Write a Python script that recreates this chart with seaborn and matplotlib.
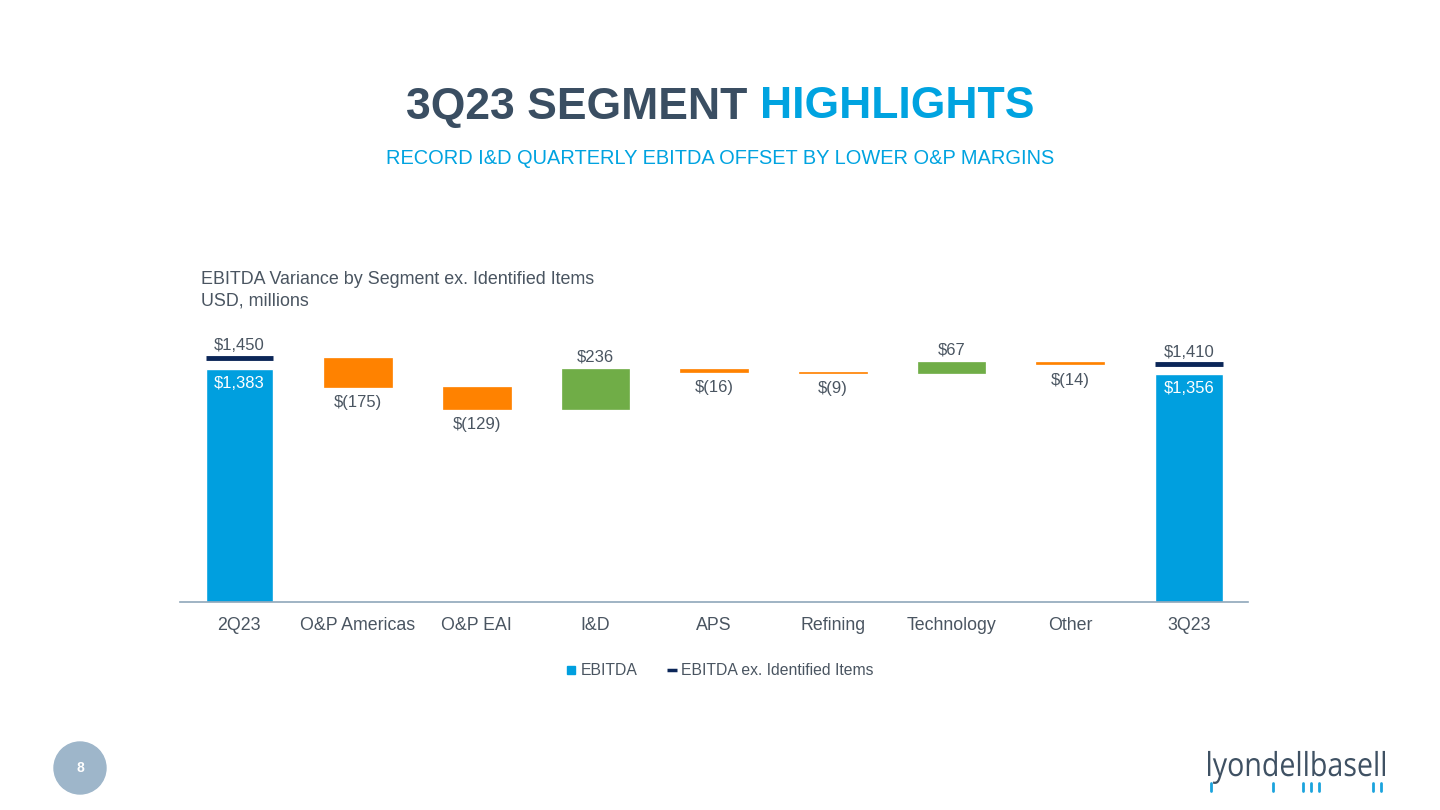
import matplotlib
matplotlib.use("Agg")
import matplotlib.pyplot as plt
import seaborn as sns
import pandas as pd
import numpy as np
from matplotlib.patches import Ellipse, PathPatch
from matplotlib.lines import Line2D
from matplotlib.textpath import TextPath
from matplotlib.font_manager import FontProperties
import matplotlib.transforms as mtransforms

# ---- data ----
categories = ["2Q23", "O&P Americas", "O&P EAI", "I&D", "APS", "Refining", "Technology", "Other", "3Q23"]
start_ebitda = 1383
start_ex_items = 1450
changes = [-175, -129, 236, -16, -9, 67, -14]
end_ebitda = 1356
end_ex_items = 1410

sns.set_theme(style="white")
plt.rcParams["font.family"] = ["Liberation Sans", "DejaVu Sans"]

BLUE = "#009FDF"
NAVY = "#0B2658"
ORANGE = "#FF8200"
GREEN = "#70AD47"
TEXT = "#4A5561"
TITLE_DARK = "#3A4E62"
TITLE_BLUE = "#00A3E0"

fig = plt.figure(figsize=(14.4, 8.1), dpi=100)
ax = fig.add_axes([0.125, 0.2568, 0.7417, 0.3328])

# totals via seaborn
tot_df = pd.DataFrame({"cat": categories,
                       "val": [start_ebitda] + [0] * len(changes) + [end_ebitda]})
sns.barplot(data=tot_df, x="cat", y="val", order=categories, color=BLUE,
            saturation=1, width=0.57, ax=ax, legend=False)

bw = 0.57
LBL = 12
# floating bars
level = start_ex_items
for i, ch in enumerate(changes, start=1):
    bottom = level if ch >= 0 else level + ch
    col = GREEN if ch >= 0 else ORANGE
    ax.bar(i, abs(ch), bottom=bottom, width=bw, color=col, edgecolor=col, linewidth=0.5)
    if ch >= 0:
        ax.text(i, level + ch + 25, f"${ch}", ha="center", va="bottom", fontsize=LBL, color=TEXT)
    else:
        ax.text(i, level + ch - 48, f"$({-ch})", ha="center", va="top", fontsize=LBL, color=TEXT)
    level += ch

# ex-identified-items lines
for i, v in [(0, start_ex_items), (len(categories) - 1, end_ex_items)]:
    ax.plot([i - bw / 2, i + bw / 2], [v, v], color=NAVY, lw=3.5, solid_capstyle="butt")
    ax.text(i, v + 25, f"${v:,}", ha="center", va="bottom", fontsize=LBL, color=TEXT)

for i, v in [(0, start_ebitda), (len(categories) - 1, end_ebitda)]:
    ax.text(i, v - 42, f"${v:,}", ha="center", va="top", fontsize=LBL, color="white")

ax.set_xlim(-0.5, 8.5)
ax.set_ylim(0, 1600)
ax.set_xlabel("")
ax.set_ylabel("")
ax.set_yticks([])
for s in ["top", "left", "right"]:
    ax.spines[s].set_visible(False)
ax.spines["bottom"].set_color("#8FA7BA")
ax.spines["bottom"].set_linewidth(1.2)
ax.tick_params(axis="x", length=0, pad=11, labelsize=12.8, labelcolor=TEXT)

# legend
handles = [Line2D([], [], marker="s", color=BLUE, linestyle="none", markersize=6),
           Line2D([], [], color=NAVY, lw=2.5, solid_capstyle="butt")]
fig.legend(handles, ["EBITDA", "EBITDA ex. Identified Items"], loc="center",
           bbox_to_anchor=(0.5, 0.172), ncol=2, frameon=False, fontsize=11.3,
           labelcolor=TEXT, handlelength=0.6, handletextpad=0.3, columnspacing=1.9)

# titles
ty = 1 - 107 / 810
t1 = fig.text(0.5, ty, "3Q23 SEGMENT ", ha="right", va="center", fontsize=32,
              fontweight="bold", color=TITLE_DARK)
t2 = fig.text(0.5, ty, "HIGHLIGHTS", ha="left", va="center", fontsize=32,
              fontweight="bold", color=TITLE_BLUE)
fig.canvas.draw()
r = fig.canvas.get_renderer()
w1 = t1.get_window_extent(r).width
w2 = t2.get_window_extent(r).width
xc = 0.5 + (w1 - w2) / 2 / fig.bbox.width
t1.set_x(xc)
t2.set_x(xc)

fig.text(0.5, 1 - 158 / 810, "RECORD I&D QUARTERLY EBITDA OFFSET BY LOWER O&P MARGINS",
         ha="center", va="center", fontsize=14.4, color=TITLE_BLUE)

fig.text(201 / 1440, 1 - 280 / 810, "EBITDA Variance by Segment ex. Identified Items",
         ha="left", va="center", fontsize=12.9, color=TEXT)
fig.text(201 / 1440, 1 - 301 / 810, "USD, millions",
         ha="left", va="center", fontsize=12.9, color=TEXT)

# page number
circ = Ellipse((80 / 1440, 1 - 768 / 810), 52 / 1440, 52 / 810, transform=fig.transFigure,
               color="#9EB6CA", zorder=5)
fig.patches.append(circ)
fig.text(80 / 1440, 1 - 768 / 810, "8", ha="center", va="center", fontsize=10,
         fontweight="bold", color="white", zorder=6)

# logo (condensed text path)
fp = FontProperties(family=["Open Sans", "DejaVu Sans"])
tp = TextPath((0, 0), "lyondellbasell", size=33, prop=fp)
bb = tp.get_extents()
sx = (1385 - 1208) / bb.width
trans = (mtransforms.Affine2D().translate(-bb.x0, 0).scale(sx, 1.0)
         .translate(1208, 810 - 776))
patch = PathPatch(trans.transform_path(tp), facecolor="#3F5163", edgecolor="none",
                  transform=None)
fig.patches.append(patch)
for xp in [1211, 1273, 1303, 1311, 1319, 1373, 1381]:
    fig.lines.append(Line2D([xp / 1440, xp / 1440], [1 - 783 / 810, 1 - 791 / 810],
                            transform=fig.transFigure, color="#1BA3DD", lw=2))

fig.savefig("out.png", dpi=100, facecolor="white")
